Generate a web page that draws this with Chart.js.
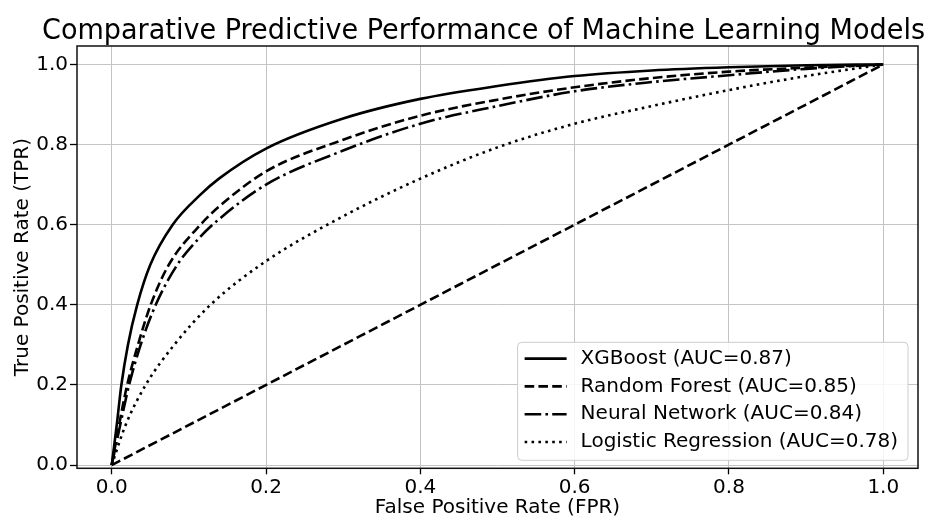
<!DOCTYPE html>
<html><head><meta charset="utf-8">
<script src="https://cdn.jsdelivr.net/npm/chart.js@4.4.1/dist/chart.umd.min.js"></script>
<style>html,body{margin:0;padding:0;background:#fff}#wrap{width:928px;height:516px;position:relative}</style>
</head><body><div id="wrap"><canvas id="c"></canvas></div>
<script>
// ---- text ----
const chartTitle = 'Comparative Predictive Performance of Machine Learning Models';
const xAxisTitle = 'False Positive Rate (FPR)';
const yAxisTitle = 'True Positive Rate (TPR)';
const xTickValues = [0.0, 0.2, 0.4, 0.6, 0.8, 1.0];
const yTickValues = [0.0, 0.2, 0.4, 0.6, 0.8, 1.0];
const seriesLabels = ['XGBoost (AUC=0.87)', 'Random Forest (AUC=0.85)', 'Neural Network (AUC=0.84)', 'Logistic Regression (AUC=0.78)', 'Chance'];

// ---- data ----
const xgbFpr = [0, 0.0065, 0.0125, 0.021, 0.033, 0.05, 0.079, 0.115, 0.139, 0.2, 0.3, 0.4, 0.5, 0.6, 0.7, 0.8, 0.9, 1.0];
const xgbTpr = [0, 0.1, 0.2, 0.3, 0.4, 0.5, 0.6, 0.675, 0.715, 0.79, 0.865, 0.914, 0.946, 0.971, 0.985, 0.993, 0.998, 1.0];

const rfFpr = [0, 0.0095, 0.02, 0.034, 0.0505, 0.074, 0.115, 0.139, 0.2, 0.3, 0.4, 0.5, 0.6, 0.7, 0.8, 0.9, 1.0];
const rfTpr = [0, 0.1, 0.2, 0.3, 0.4, 0.5, 0.6, 0.645, 0.733, 0.812, 0.872, 0.912, 0.943, 0.966, 0.982, 0.992, 1.0];

const nnFpr = [0, 0.011, 0.0225, 0.0375, 0.057, 0.085, 0.115, 0.138, 0.2, 0.3, 0.4, 0.5, 0.6, 0.7, 0.8, 0.9, 1.0];
const nnTpr = [0, 0.1, 0.2, 0.3, 0.4, 0.5, 0.57, 0.612, 0.7, 0.785, 0.852, 0.896, 0.933, 0.956, 0.973, 0.989, 1.0];

const lrFpr = [0, 0.018, 0.044, 0.081, 0.128, 0.2, 0.3, 0.4, 0.5, 0.6, 0.7, 0.8, 0.9, 1.0];
const lrTpr = [0, 0.1, 0.2, 0.3, 0.4, 0.509, 0.621, 0.715, 0.793, 0.852, 0.896, 0.936, 0.971, 1.0];

const chanceFpr = [0, 1];
const chanceTpr = [0, 1];

const inLegend = [true, true, true, true, false];

// ---- build ----
const pts = (xs, ys) => xs.map((x, i) => ({x: x, y: ys[i]}));
const LW = 2.6;
const dashes = [[], [9.6, 4.2], [16.6, 4.2, 2.6, 4.2], [2.6, 4.3], [9.6, 4.2]];
const seriesData = [pts(xgbFpr, xgbTpr), pts(rfFpr, rfTpr), pts(nnFpr, nnTpr), pts(lrFpr, lrTpr), pts(chanceFpr, chanceTpr)];

const datasets = seriesData.map((d, i) => ({
  label: seriesLabels[i],
  data: d,
  borderColor: '#000',
  backgroundColor: '#000',
  borderWidth: LW,
  borderDash: dashes[i],
  borderCapStyle: 'butt',
  pointRadius: 0,
  pointHoverRadius: 0,
  fill: false,
  cubicInterpolationMode: 'monotone'
}));

Chart.defaults.font.family = '"DejaVu Sans", sans-serif';
Chart.defaults.color = '#000';

const frameAndLegend = {
  id: 'frameAndLegend',
  afterLayout(chart) {
    const t = chart.titleBlock;
    if (t) { t.left = 42; t.right = 925; }
  },
  afterDatasetsDraw(chart) {
    const {ctx, chartArea: a} = chart;
    ctx.save();
    ctx.strokeStyle = '#111';
    ctx.lineWidth = 1.5;
    ctx.strokeRect(a.left, a.top, a.right - a.left, a.bottom - a.top);
    ctx.restore();
  },
  afterDraw(chart) {
    const {ctx, chartArea: a} = chart;
    const items = chart.data.datasets.filter((d, i) => inLegend[i]);
    ctx.save();
    ctx.font = '20px "DejaVu Sans"';
    const maxW = Math.max(...items.map(d => ctx.measureText(d.label).width));
    const padL = 7, lineLen = 42, gap = 14, padR = 10, rowH = 27.8, padT = 16.3, padB = 18.3;
    const w = padL + lineLen + gap + maxW + padR;
    const h = padT + rowH * (items.length - 1) + padB;
    const right = a.right - 10, bottom = a.bottom - 8;
    const left = right - w, top = bottom - h;
    ctx.beginPath();
    ctx.roundRect(left, top, w, h, 4);
    ctx.fillStyle = 'rgba(255,255,255,0.85)';
    ctx.fill();
    ctx.strokeStyle = '#cccccc';
    ctx.lineWidth = 1;
    ctx.stroke();
    items.forEach((d, i) => {
      const cy = top + padT + i * rowH;
      ctx.beginPath();
      ctx.setLineDash(d.borderDash || []);
      ctx.lineWidth = d.borderWidth;
      ctx.strokeStyle = d.borderColor;
      ctx.lineCap = 'butt';
      ctx.moveTo(left + padL, cy);
      ctx.lineTo(left + padL + lineLen, cy);
      ctx.stroke();
      ctx.setLineDash([]);
      ctx.fillStyle = '#000';
      ctx.textBaseline = 'middle';
      ctx.textAlign = 'left';
      ctx.fillText(d.label, left + padL + lineLen + gap, cy);
    });
    ctx.restore();
  }
};

new Chart(document.getElementById('c'), {
  type: 'line',
  data: {datasets: datasets},
  plugins: [frameAndLegend],
  options: {
    responsive: true,
    maintainAspectRatio: false,
    animation: false,
    events: [],
    layout: {padding: {top: 0, right: 10, bottom: 0, left: 0}},
    plugins: {
      legend: {display: false},
      tooltip: {enabled: false},
      title: {
        display: true,
        text: chartTitle,
        color: '#000',
        font: {size: 28, weight: 'normal', lineHeight: 1.0},
        padding: {top: 18, bottom: 0}
      }
    },
    scales: {
      x: {
        type: 'linear',
        min: -0.045,
        max: 1.045,
        afterBuildTicks: s => { s.ticks = xTickValues.map(v => ({value: v})); },
        afterFit: s => { s.height = 47.7; },
        ticks: {font: {size: 20}, color: '#000', padding: 1, maxRotation: 0, callback: v => Number(v).toFixed(1)},
        grid: {color: '#c4c4c4', lineWidth: 1, drawTicks: true, tickLength: 6, tickColor: '#000', tickWidth: 1.3},
        border: {display: false},
        title: {display: true, text: xAxisTitle, color: '#000', font: {size: 20, lineHeight: 1.0}, padding: {top: 0, bottom: -1.5}}
      },
      y: {
        type: 'linear',
        min: -0.008,
        max: 1.046,
        afterBuildTicks: s => { s.ticks = yTickValues.map(v => ({value: v})); },
        afterFit: s => { s.width = 77; },
        ticks: {font: {size: 20}, color: '#000', padding: 2, callback: v => Number(v).toFixed(1)},
        grid: {color: '#c4c4c4', lineWidth: 1, drawTicks: true, tickLength: 7, tickColor: '#000', tickWidth: 1.3},
        border: {display: false},
        title: {display: true, text: yAxisTitle, color: '#000', font: {size: 20, lineHeight: 1.2}, padding: {top: 11, bottom: 0}}
      }
    }
  }
});
</script>
</body></html>
